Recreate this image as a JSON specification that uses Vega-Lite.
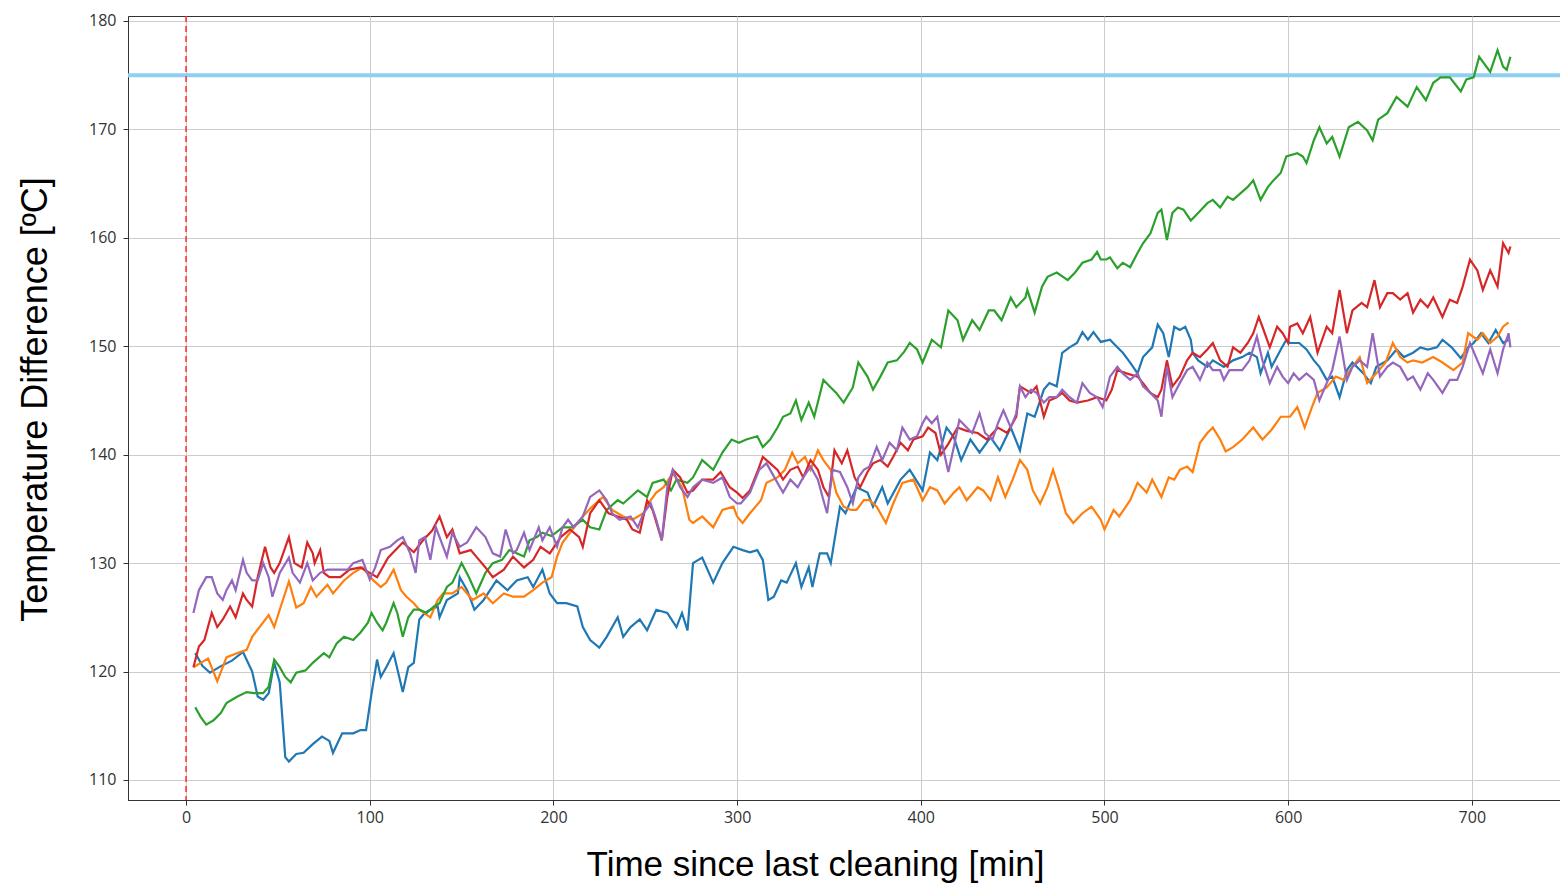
{
  "$schema": "https://vega.github.io/schema/vega-lite/v6.json",
  "width": 1432,
  "height": 784,
  "autosize": {"type": "none"},
  "padding": {"left": 128, "top": 16, "right": 0, "bottom": 89},
  "background": "white",
  "config": {
    "view": {"stroke": "#333333", "strokeWidth": 1},
    "axis": {
      "labelFont": "Open Sans",
      "labelFontSize": 16,
      "labelColor": "#333333",
      "tickColor": "#333333",
      "tickSize": 5,
      "domainColor": "#333333",
      "gridColor": "#cccccc",
      "gridWidth": 1,
      "titleFont": "Liberation Sans",
      "titleFontWeight": "normal",
      "titleColor": "#000000"
    }
  },
  "data": {"values": [
    {"s":"blue","t":5,"v":121.7},{"s":"blue","t":9,"v":120.5},{"s":"blue","t":13,"v":119.9},{"s":"blue","t":19,"v":120.5},{"s":"blue","t":25,"v":121.0},{"s":"blue","t":31,"v":121.8},{"s":"blue","t":36,"v":120.0},{"s":"blue","t":39,"v":117.7},{"s":"blue","t":42,"v":117.4},{"s":"blue","t":45,"v":118.0},{"s":"blue","t":48,"v":120.8},{"s":"blue","t":51,"v":119.0},{"s":"blue","t":54,"v":112.1},{"s":"blue","t":56,"v":111.7},{"s":"blue","t":60,"v":112.4},{"s":"blue","t":64,"v":112.5},{"s":"blue","t":69,"v":113.3},{"s":"blue","t":74,"v":114.0},{"s":"blue","t":78,"v":113.6},{"s":"blue","t":80,"v":112.5},{"s":"blue","t":85,"v":114.3},{"s":"blue","t":91,"v":114.3},{"s":"blue","t":95,"v":114.6},{"s":"blue","t":98,"v":114.6},{"s":"blue","t":101,"v":118.0},{"s":"blue","t":104,"v":121.1},{"s":"blue","t":106,"v":119.5},{"s":"blue","t":109,"v":120.4},{"s":"blue","t":113,"v":121.7},{"s":"blue","t":118,"v":118.1},{"s":"blue","t":121,"v":120.4},{"s":"blue","t":124,"v":120.8},{"s":"blue","t":127,"v":124.8},{"s":"blue","t":130,"v":125.4},{"s":"blue","t":133,"v":125.7},{"s":"blue","t":137,"v":126.0},{"s":"blue","t":138,"v":125.0},{"s":"blue","t":142,"v":126.6},{"s":"blue","t":148,"v":127.2},{"s":"blue","t":149,"v":128.7},{"s":"blue","t":153,"v":127.5},{"s":"blue","t":157,"v":125.7},{"s":"blue","t":162,"v":126.6},{"s":"blue","t":169,"v":128.4},{"s":"blue","t":175,"v":127.5},{"s":"blue","t":180,"v":128.4},{"s":"blue","t":186,"v":128.7},{"s":"blue","t":189,"v":127.8},{"s":"blue","t":194,"v":129.4},{"s":"blue","t":198,"v":127.2},{"s":"blue","t":202,"v":126.3},{"s":"blue","t":207,"v":126.3},{"s":"blue","t":213,"v":126.0},{"s":"blue","t":216,"v":124.1},{"s":"blue","t":220,"v":122.9},{"s":"blue","t":225,"v":122.2},{"s":"blue","t":229,"v":123.2},{"s":"blue","t":235,"v":125.0},{"s":"blue","t":238,"v":123.2},{"s":"blue","t":242,"v":124.1},{"s":"blue","t":247,"v":124.8},{"s":"blue","t":251,"v":123.8},{"s":"blue","t":256,"v":125.7},{"s":"blue","t":262,"v":125.4},{"s":"blue","t":267,"v":124.1},{"s":"blue","t":270,"v":125.4},{"s":"blue","t":273,"v":123.8},{"s":"blue","t":276,"v":130.0},{"s":"blue","t":281,"v":130.5},{"s":"blue","t":287,"v":128.2},{"s":"blue","t":292,"v":130.0},{"s":"blue","t":298,"v":131.5},{"s":"blue","t":303,"v":131.2},{"s":"blue","t":307,"v":131.0},{"s":"blue","t":311,"v":131.2},{"s":"blue","t":314,"v":130.3},{"s":"blue","t":317,"v":126.6},{"s":"blue","t":320,"v":126.9},{"s":"blue","t":324,"v":128.4},{"s":"blue","t":327,"v":128.2},{"s":"blue","t":332,"v":130.0},{"s":"blue","t":335,"v":127.8},{"s":"blue","t":339,"v":129.6},{"s":"blue","t":341,"v":127.8},{"s":"blue","t":345,"v":130.9},{"s":"blue","t":349,"v":130.9},{"s":"blue","t":351,"v":130.0},{"s":"blue","t":356,"v":135.2},{"s":"blue","t":359,"v":134.6},{"s":"blue","t":365,"v":137.0},{"s":"blue","t":371,"v":136.5},{"s":"blue","t":374,"v":135.2},{"s":"blue","t":379,"v":137.0},{"s":"blue","t":382,"v":135.5},{"s":"blue","t":389,"v":137.7},{"s":"blue","t":394,"v":138.6},{"s":"blue","t":401,"v":136.7},{"s":"blue","t":405,"v":140.2},{"s":"blue","t":409,"v":139.5},{"s":"blue","t":414,"v":142.5},{"s":"blue","t":418,"v":141.6},{"s":"blue","t":422,"v":139.5},{"s":"blue","t":427,"v":141.4},{"s":"blue","t":432,"v":140.2},{"s":"blue","t":438,"v":141.6},{"s":"blue","t":443,"v":140.4},{"s":"blue","t":449,"v":142.5},{"s":"blue","t":454,"v":140.4},{"s":"blue","t":458,"v":143.8},{"s":"blue","t":462,"v":143.5},{"s":"blue","t":467,"v":146.0},{"s":"blue","t":470,"v":146.6},{"s":"blue","t":474,"v":146.3},{"s":"blue","t":477,"v":149.4},{"s":"blue","t":481,"v":149.9},{"s":"blue","t":485,"v":150.3},{"s":"blue","t":488,"v":151.3},{"s":"blue","t":491,"v":150.6},{"s":"blue","t":494,"v":151.3},{"s":"blue","t":498,"v":150.4},{"s":"blue","t":503,"v":150.6},{"s":"blue","t":507,"v":149.9},{"s":"blue","t":510,"v":149.4},{"s":"blue","t":514,"v":148.5},{"s":"blue","t":518,"v":147.5},{"s":"blue","t":521,"v":149.0},{"s":"blue","t":526,"v":149.9},{"s":"blue","t":529,"v":152.0},{"s":"blue","t":532,"v":151.2},{"s":"blue","t":535,"v":149.0},{"s":"blue","t":538,"v":151.8},{"s":"blue","t":541,"v":151.5},{"s":"blue","t":544,"v":151.8},{"s":"blue","t":547,"v":150.6},{"s":"blue","t":548,"v":149.4},{"s":"blue","t":551,"v":148.7},{"s":"blue","t":556,"v":148.1},{"s":"blue","t":559,"v":148.7},{"s":"blue","t":565,"v":148.1},{"s":"blue","t":570,"v":148.7},{"s":"blue","t":575,"v":149.0},{"s":"blue","t":579,"v":149.4},{"s":"blue","t":583,"v":149.0},{"s":"blue","t":585,"v":147.5},{"s":"blue","t":589,"v":149.4},{"s":"blue","t":591,"v":148.1},{"s":"blue","t":596,"v":149.7},{"s":"blue","t":599,"v":150.6},{"s":"blue","t":601,"v":150.3},{"s":"blue","t":606,"v":150.3},{"s":"blue","t":610,"v":149.7},{"s":"blue","t":614,"v":148.7},{"s":"blue","t":617,"v":148.1},{"s":"blue","t":621,"v":146.9},{"s":"blue","t":624,"v":147.2},{"s":"blue","t":628,"v":145.3},{"s":"blue","t":632,"v":147.8},{"s":"blue","t":635,"v":148.5},{"s":"blue","t":641,"v":147.5},{"s":"blue","t":645,"v":146.6},{"s":"blue","t":648,"v":148.1},{"s":"blue","t":654,"v":148.7},{"s":"blue","t":659,"v":149.7},{"s":"blue","t":663,"v":149.0},{"s":"blue","t":668,"v":149.4},{"s":"blue","t":672,"v":149.9},{"s":"blue","t":676,"v":149.7},{"s":"blue","t":681,"v":149.9},{"s":"blue","t":684,"v":150.6},{"s":"blue","t":689,"v":149.9},{"s":"blue","t":694,"v":148.9},{"s":"blue","t":698,"v":149.9},{"s":"blue","t":701,"v":150.3},{"s":"blue","t":705,"v":151.2},{"s":"blue","t":709,"v":150.3},{"s":"blue","t":713,"v":151.5},{"s":"blue","t":717,"v":150.3},{"s":"blue","t":720,"v":150.6},
    {"s":"orange","t":4,"v":120.4},{"s":"orange","t":8,"v":120.8},{"s":"orange","t":12,"v":121.2},{"s":"orange","t":17,"v":119.1},{"s":"orange","t":22,"v":121.3},{"s":"orange","t":28,"v":121.7},{"s":"orange","t":33,"v":122.0},{"s":"orange","t":36,"v":123.2},{"s":"orange","t":40,"v":124.1},{"s":"orange","t":45,"v":125.2},{"s":"orange","t":48,"v":124.1},{"s":"orange","t":51,"v":125.7},{"s":"orange","t":56,"v":128.3},{"s":"orange","t":60,"v":125.9},{"s":"orange","t":64,"v":126.3},{"s":"orange","t":68,"v":127.8},{"s":"orange","t":71,"v":126.9},{"s":"orange","t":77,"v":128.0},{"s":"orange","t":80,"v":127.2},{"s":"orange","t":86,"v":128.4},{"s":"orange","t":91,"v":129.1},{"s":"orange","t":96,"v":129.6},{"s":"orange","t":102,"v":128.4},{"s":"orange","t":106,"v":127.8},{"s":"orange","t":109,"v":128.2},{"s":"orange","t":113,"v":129.4},{"s":"orange","t":117,"v":127.5},{"s":"orange","t":120,"v":126.9},{"s":"orange","t":124,"v":126.3},{"s":"orange","t":127,"v":125.7},{"s":"orange","t":133,"v":125.0},{"s":"orange","t":137,"v":126.6},{"s":"orange","t":140,"v":127.2},{"s":"orange","t":145,"v":127.2},{"s":"orange","t":150,"v":127.8},{"s":"orange","t":156,"v":126.6},{"s":"orange","t":162,"v":127.2},{"s":"orange","t":167,"v":126.3},{"s":"orange","t":173,"v":127.2},{"s":"orange","t":178,"v":126.9},{"s":"orange","t":184,"v":126.9},{"s":"orange","t":189,"v":127.5},{"s":"orange","t":194,"v":128.2},{"s":"orange","t":199,"v":128.7},{"s":"orange","t":202,"v":130.6},{"s":"orange","t":205,"v":131.9},{"s":"orange","t":209,"v":132.8},{"s":"orange","t":216,"v":134.3},{"s":"orange","t":221,"v":135.2},{"s":"orange","t":227,"v":136.1},{"s":"orange","t":232,"v":134.9},{"s":"orange","t":238,"v":134.3},{"s":"orange","t":243,"v":134.0},{"s":"orange","t":249,"v":134.6},{"s":"orange","t":253,"v":135.8},{"s":"orange","t":256,"v":136.5},{"s":"orange","t":260,"v":137.0},{"s":"orange","t":265,"v":138.3},{"s":"orange","t":270,"v":137.0},{"s":"orange","t":274,"v":134.0},{"s":"orange","t":276,"v":133.7},{"s":"orange","t":281,"v":134.3},{"s":"orange","t":287,"v":133.3},{"s":"orange","t":292,"v":134.9},{"s":"orange","t":298,"v":135.2},{"s":"orange","t":300,"v":134.3},{"s":"orange","t":303,"v":133.7},{"s":"orange","t":307,"v":134.6},{"s":"orange","t":313,"v":135.8},{"s":"orange","t":316,"v":137.4},{"s":"orange","t":322,"v":137.9},{"s":"orange","t":326,"v":138.6},{"s":"orange","t":330,"v":140.2},{"s":"orange","t":333,"v":139.2},{"s":"orange","t":337,"v":139.8},{"s":"orange","t":340,"v":138.6},{"s":"orange","t":344,"v":140.4},{"s":"orange","t":347,"v":139.5},{"s":"orange","t":351,"v":138.6},{"s":"orange","t":354,"v":136.5},{"s":"orange","t":358,"v":135.2},{"s":"orange","t":362,"v":134.9},{"s":"orange","t":365,"v":134.9},{"s":"orange","t":369,"v":135.8},{"s":"orange","t":372,"v":135.8},{"s":"orange","t":376,"v":135.2},{"s":"orange","t":381,"v":133.7},{"s":"orange","t":385,"v":135.5},{"s":"orange","t":390,"v":137.4},{"s":"orange","t":396,"v":137.7},{"s":"orange","t":401,"v":135.8},{"s":"orange","t":405,"v":137.0},{"s":"orange","t":409,"v":136.7},{"s":"orange","t":413,"v":135.5},{"s":"orange","t":418,"v":136.5},{"s":"orange","t":421,"v":137.0},{"s":"orange","t":425,"v":135.8},{"s":"orange","t":431,"v":137.0},{"s":"orange","t":434,"v":136.7},{"s":"orange","t":438,"v":135.8},{"s":"orange","t":442,"v":137.9},{"s":"orange","t":446,"v":136.1},{"s":"orange","t":450,"v":137.7},{"s":"orange","t":454,"v":139.5},{"s":"orange","t":458,"v":138.6},{"s":"orange","t":461,"v":136.7},{"s":"orange","t":465,"v":135.5},{"s":"orange","t":469,"v":137.0},{"s":"orange","t":472,"v":138.6},{"s":"orange","t":475,"v":137.0},{"s":"orange","t":479,"v":134.6},{"s":"orange","t":483,"v":133.7},{"s":"orange","t":488,"v":134.6},{"s":"orange","t":493,"v":135.2},{"s":"orange","t":498,"v":134.0},{"s":"orange","t":500,"v":133.1},{"s":"orange","t":505,"v":134.9},{"s":"orange","t":508,"v":134.3},{"s":"orange","t":514,"v":135.8},{"s":"orange","t":518,"v":137.4},{"s":"orange","t":523,"v":136.5},{"s":"orange","t":526,"v":137.7},{"s":"orange","t":531,"v":136.1},{"s":"orange","t":535,"v":137.9},{"s":"orange","t":538,"v":137.7},{"s":"orange","t":541,"v":138.6},{"s":"orange","t":545,"v":138.9},{"s":"orange","t":548,"v":138.4},{"s":"orange","t":552,"v":141.1},{"s":"orange","t":556,"v":142.0},{"s":"orange","t":559,"v":142.5},{"s":"orange","t":563,"v":141.4},{"s":"orange","t":566,"v":140.3},{"s":"orange","t":570,"v":140.7},{"s":"orange","t":575,"v":141.4},{"s":"orange","t":581,"v":142.5},{"s":"orange","t":586,"v":141.4},{"s":"orange","t":591,"v":142.3},{"s":"orange","t":596,"v":143.5},{"s":"orange","t":601,"v":143.5},{"s":"orange","t":605,"v":144.4},{"s":"orange","t":609,"v":142.5},{"s":"orange","t":613,"v":144.4},{"s":"orange","t":616,"v":145.7},{"s":"orange","t":621,"v":146.2},{"s":"orange","t":626,"v":147.2},{"s":"orange","t":630,"v":146.9},{"s":"orange","t":635,"v":148.1},{"s":"orange","t":639,"v":149.0},{"s":"orange","t":643,"v":146.6},{"s":"orange","t":648,"v":147.5},{"s":"orange","t":653,"v":148.5},{"s":"orange","t":657,"v":150.3},{"s":"orange","t":661,"v":149.0},{"s":"orange","t":665,"v":148.5},{"s":"orange","t":668,"v":148.7},{"s":"orange","t":673,"v":148.5},{"s":"orange","t":679,"v":149.0},{"s":"orange","t":684,"v":148.5},{"s":"orange","t":690,"v":147.8},{"s":"orange","t":695,"v":148.5},{"s":"orange","t":698,"v":151.2},{"s":"orange","t":703,"v":150.6},{"s":"orange","t":706,"v":151.2},{"s":"orange","t":710,"v":150.3},{"s":"orange","t":714,"v":150.9},{"s":"orange","t":717,"v":151.8},{"s":"orange","t":720,"v":152.2},
    {"s":"green","t":5,"v":116.7},{"s":"green","t":8,"v":115.8},{"s":"green","t":11,"v":115.1},{"s":"green","t":15,"v":115.5},{"s":"green","t":19,"v":116.2},{"s":"green","t":22,"v":117.1},{"s":"green","t":28,"v":117.7},{"s":"green","t":33,"v":118.1},{"s":"green","t":37,"v":118.0},{"s":"green","t":42,"v":118.0},{"s":"green","t":45,"v":118.6},{"s":"green","t":48,"v":121.1},{"s":"green","t":51,"v":120.4},{"s":"green","t":54,"v":119.5},{"s":"green","t":57,"v":119.0},{"s":"green","t":60,"v":119.9},{"s":"green","t":65,"v":120.1},{"s":"green","t":69,"v":120.8},{"s":"green","t":75,"v":121.7},{"s":"green","t":78,"v":121.3},{"s":"green","t":82,"v":122.6},{"s":"green","t":86,"v":123.2},{"s":"green","t":91,"v":122.9},{"s":"green","t":95,"v":123.6},{"s":"green","t":99,"v":124.5},{"s":"green","t":101,"v":125.4},{"s":"green","t":104,"v":124.5},{"s":"green","t":107,"v":123.8},{"s":"green","t":109,"v":124.5},{"s":"green","t":113,"v":126.3},{"s":"green","t":115,"v":125.4},{"s":"green","t":118,"v":123.2},{"s":"green","t":121,"v":125.0},{"s":"green","t":124,"v":125.7},{"s":"green","t":127,"v":125.7},{"s":"green","t":131,"v":125.4},{"s":"green","t":135,"v":126.0},{"s":"green","t":138,"v":126.3},{"s":"green","t":142,"v":127.8},{"s":"green","t":145,"v":128.2},{"s":"green","t":150,"v":130.0},{"s":"green","t":154,"v":128.7},{"s":"green","t":158,"v":127.2},{"s":"green","t":163,"v":129.1},{"s":"green","t":167,"v":130.0},{"s":"green","t":172,"v":130.3},{"s":"green","t":176,"v":131.2},{"s":"green","t":180,"v":130.9},{"s":"green","t":184,"v":130.6},{"s":"green","t":187,"v":132.1},{"s":"green","t":191,"v":132.4},{"s":"green","t":194,"v":132.8},{"s":"green","t":199,"v":132.5},{"s":"green","t":205,"v":133.3},{"s":"green","t":210,"v":133.3},{"s":"green","t":216,"v":134.0},{"s":"green","t":220,"v":133.3},{"s":"green","t":225,"v":133.1},{"s":"green","t":229,"v":134.9},{"s":"green","t":235,"v":135.8},{"s":"green","t":238,"v":135.5},{"s":"green","t":242,"v":136.1},{"s":"green","t":246,"v":136.7},{"s":"green","t":251,"v":136.1},{"s":"green","t":254,"v":137.4},{"s":"green","t":260,"v":137.7},{"s":"green","t":264,"v":136.7},{"s":"green","t":267,"v":137.7},{"s":"green","t":273,"v":137.4},{"s":"green","t":276,"v":137.9},{"s":"green","t":281,"v":139.5},{"s":"green","t":287,"v":138.6},{"s":"green","t":292,"v":140.2},{"s":"green","t":297,"v":141.4},{"s":"green","t":301,"v":141.1},{"s":"green","t":305,"v":141.4},{"s":"green","t":311,"v":141.7},{"s":"green","t":314,"v":140.7},{"s":"green","t":318,"v":141.4},{"s":"green","t":322,"v":142.5},{"s":"green","t":325,"v":143.5},{"s":"green","t":329,"v":143.8},{"s":"green","t":332,"v":145.0},{"s":"green","t":335,"v":143.2},{"s":"green","t":339,"v":144.8},{"s":"green","t":342,"v":143.5},{"s":"green","t":347,"v":146.9},{"s":"green","t":351,"v":146.2},{"s":"green","t":354,"v":145.7},{"s":"green","t":358,"v":144.8},{"s":"green","t":363,"v":146.2},{"s":"green","t":366,"v":148.5},{"s":"green","t":371,"v":147.2},{"s":"green","t":374,"v":146.0},{"s":"green","t":378,"v":147.2},{"s":"green","t":382,"v":148.5},{"s":"green","t":387,"v":148.7},{"s":"green","t":391,"v":149.5},{"s":"green","t":394,"v":150.3},{"s":"green","t":398,"v":149.7},{"s":"green","t":401,"v":148.5},{"s":"green","t":406,"v":150.6},{"s":"green","t":411,"v":149.9},{"s":"green","t":415,"v":153.3},{"s":"green","t":420,"v":152.4},{"s":"green","t":423,"v":150.6},{"s":"green","t":428,"v":152.4},{"s":"green","t":432,"v":151.5},{"s":"green","t":437,"v":153.3},{"s":"green","t":440,"v":153.3},{"s":"green","t":444,"v":152.4},{"s":"green","t":449,"v":154.5},{"s":"green","t":452,"v":153.6},{"s":"green","t":457,"v":154.5},{"s":"green","t":458,"v":155.2},{"s":"green","t":462,"v":153.1},{"s":"green","t":466,"v":155.5},{"s":"green","t":469,"v":156.4},{"s":"green","t":474,"v":156.8},{"s":"green","t":480,"v":156.1},{"s":"green","t":484,"v":156.8},{"s":"green","t":488,"v":157.7},{"s":"green","t":493,"v":158.0},{"s":"green","t":496,"v":158.7},{"s":"green","t":498,"v":158.0},{"s":"green","t":501,"v":158.0},{"s":"green","t":503,"v":158.2},{"s":"green","t":507,"v":157.2},{"s":"green","t":510,"v":157.7},{"s":"green","t":514,"v":157.3},{"s":"green","t":518,"v":158.6},{"s":"green","t":521,"v":159.5},{"s":"green","t":525,"v":160.4},{"s":"green","t":529,"v":162.3},{"s":"green","t":531,"v":162.6},{"s":"green","t":534,"v":159.8},{"s":"green","t":537,"v":162.3},{"s":"green","t":540,"v":162.8},{"s":"green","t":543,"v":162.6},{"s":"green","t":547,"v":161.6},{"s":"green","t":551,"v":162.3},{"s":"green","t":556,"v":163.2},{"s":"green","t":559,"v":163.5},{"s":"green","t":563,"v":162.8},{"s":"green","t":567,"v":163.8},{"s":"green","t":570,"v":163.5},{"s":"green","t":574,"v":164.1},{"s":"green","t":578,"v":164.7},{"s":"green","t":581,"v":165.3},{"s":"green","t":585,"v":163.5},{"s":"green","t":589,"v":164.7},{"s":"green","t":592,"v":165.3},{"s":"green","t":596,"v":166.0},{"s":"green","t":599,"v":167.5},{"s":"green","t":605,"v":167.8},{"s":"green","t":608,"v":167.5},{"s":"green","t":610,"v":166.9},{"s":"green","t":614,"v":169.0},{"s":"green","t":617,"v":170.2},{"s":"green","t":621,"v":168.7},{"s":"green","t":624,"v":169.3},{"s":"green","t":628,"v":167.5},{"s":"green","t":633,"v":170.2},{"s":"green","t":638,"v":170.7},{"s":"green","t":643,"v":169.9},{"s":"green","t":646,"v":169.0},{"s":"green","t":649,"v":170.9},{"s":"green","t":654,"v":171.5},{"s":"green","t":659,"v":173.0},{"s":"green","t":665,"v":172.1},{"s":"green","t":670,"v":173.9},{"s":"green","t":675,"v":172.7},{"s":"green","t":679,"v":174.3},{"s":"green","t":683,"v":174.8},{"s":"green","t":688,"v":174.8},{"s":"green","t":694,"v":173.5},{"s":"green","t":697,"v":174.6},{"s":"green","t":701,"v":174.8},{"s":"green","t":704,"v":176.7},{"s":"green","t":710,"v":175.3},{"s":"green","t":714,"v":177.3},{"s":"green","t":717,"v":175.8},{"s":"green","t":719,"v":175.5},{"s":"green","t":721,"v":176.7},
    {"s":"red","t":4,"v":120.4},{"s":"red","t":7,"v":122.3},{"s":"red","t":10,"v":122.9},{"s":"red","t":14,"v":125.4},{"s":"red","t":17,"v":124.1},{"s":"red","t":20,"v":124.8},{"s":"red","t":24,"v":126.0},{"s":"red","t":27,"v":125.0},{"s":"red","t":31,"v":127.2},{"s":"red","t":33,"v":126.6},{"s":"red","t":36,"v":126.0},{"s":"red","t":39,"v":128.7},{"s":"red","t":43,"v":131.5},{"s":"red","t":46,"v":129.6},{"s":"red","t":48,"v":129.1},{"s":"red","t":51,"v":130.0},{"s":"red","t":56,"v":132.4},{"s":"red","t":59,"v":130.0},{"s":"red","t":63,"v":129.6},{"s":"red","t":66,"v":131.9},{"s":"red","t":69,"v":130.9},{"s":"red","t":70,"v":130.0},{"s":"red","t":73,"v":131.2},{"s":"red","t":75,"v":129.1},{"s":"red","t":78,"v":128.7},{"s":"red","t":84,"v":128.7},{"s":"red","t":89,"v":129.4},{"s":"red","t":95,"v":129.6},{"s":"red","t":100,"v":129.1},{"s":"red","t":104,"v":128.7},{"s":"red","t":110,"v":130.5},{"s":"red","t":118,"v":131.9},{"s":"red","t":124,"v":131.0},{"s":"red","t":129,"v":132.1},{"s":"red","t":134,"v":133.0},{"s":"red","t":138,"v":134.3},{"s":"red","t":142,"v":132.4},{"s":"red","t":145,"v":133.1},{"s":"red","t":149,"v":130.9},{"s":"red","t":155,"v":131.2},{"s":"red","t":158,"v":130.6},{"s":"red","t":163,"v":129.6},{"s":"red","t":167,"v":128.7},{"s":"red","t":173,"v":129.4},{"s":"red","t":178,"v":130.6},{"s":"red","t":184,"v":129.6},{"s":"red","t":189,"v":130.3},{"s":"red","t":193,"v":131.5},{"s":"red","t":198,"v":130.9},{"s":"red","t":204,"v":132.4},{"s":"red","t":209,"v":133.1},{"s":"red","t":214,"v":132.4},{"s":"red","t":216,"v":131.5},{"s":"red","t":220,"v":134.6},{"s":"red","t":225,"v":135.8},{"s":"red","t":230,"v":134.6},{"s":"red","t":235,"v":134.3},{"s":"red","t":240,"v":134.0},{"s":"red","t":243,"v":133.1},{"s":"red","t":247,"v":132.8},{"s":"red","t":251,"v":135.8},{"s":"red","t":254,"v":134.9},{"s":"red","t":259,"v":132.1},{"s":"red","t":262,"v":136.1},{"s":"red","t":265,"v":138.6},{"s":"red","t":269,"v":137.9},{"s":"red","t":273,"v":136.5},{"s":"red","t":276,"v":136.7},{"s":"red","t":281,"v":137.7},{"s":"red","t":287,"v":137.7},{"s":"red","t":291,"v":138.4},{"s":"red","t":296,"v":137.0},{"s":"red","t":300,"v":136.5},{"s":"red","t":303,"v":136.0},{"s":"red","t":307,"v":136.7},{"s":"red","t":311,"v":138.4},{"s":"red","t":314,"v":139.8},{"s":"red","t":318,"v":139.2},{"s":"red","t":322,"v":138.6},{"s":"red","t":325,"v":137.7},{"s":"red","t":329,"v":138.6},{"s":"red","t":333,"v":138.9},{"s":"red","t":336,"v":137.9},{"s":"red","t":340,"v":139.5},{"s":"red","t":344,"v":138.6},{"s":"red","t":347,"v":137.0},{"s":"red","t":350,"v":136.1},{"s":"red","t":353,"v":140.4},{"s":"red","t":357,"v":139.2},{"s":"red","t":360,"v":140.4},{"s":"red","t":364,"v":137.9},{"s":"red","t":367,"v":137.0},{"s":"red","t":371,"v":138.4},{"s":"red","t":374,"v":139.2},{"s":"red","t":378,"v":139.5},{"s":"red","t":382,"v":138.9},{"s":"red","t":385,"v":139.8},{"s":"red","t":389,"v":141.1},{"s":"red","t":393,"v":140.4},{"s":"red","t":396,"v":141.4},{"s":"red","t":401,"v":141.7},{"s":"red","t":404,"v":142.5},{"s":"red","t":408,"v":142.0},{"s":"red","t":411,"v":140.0},{"s":"red","t":415,"v":141.0},{"s":"red","t":420,"v":142.5},{"s":"red","t":425,"v":142.2},{"s":"red","t":431,"v":142.0},{"s":"red","t":436,"v":141.4},{"s":"red","t":442,"v":142.5},{"s":"red","t":447,"v":142.0},{"s":"red","t":452,"v":143.5},{"s":"red","t":454,"v":146.3},{"s":"red","t":460,"v":145.7},{"s":"red","t":463,"v":146.3},{"s":"red","t":467,"v":143.5},{"s":"red","t":470,"v":145.0},{"s":"red","t":474,"v":145.3},{"s":"red","t":477,"v":145.7},{"s":"red","t":481,"v":145.0},{"s":"red","t":485,"v":144.8},{"s":"red","t":491,"v":145.0},{"s":"red","t":496,"v":145.3},{"s":"red","t":501,"v":145.0},{"s":"red","t":504,"v":146.0},{"s":"red","t":507,"v":147.8},{"s":"red","t":512,"v":147.5},{"s":"red","t":518,"v":147.2},{"s":"red","t":521,"v":146.6},{"s":"red","t":525,"v":145.7},{"s":"red","t":529,"v":145.3},{"s":"red","t":531,"v":146.0},{"s":"red","t":534,"v":148.7},{"s":"red","t":537,"v":146.3},{"s":"red","t":541,"v":147.2},{"s":"red","t":545,"v":148.7},{"s":"red","t":548,"v":149.4},{"s":"red","t":552,"v":149.0},{"s":"red","t":556,"v":149.7},{"s":"red","t":559,"v":150.3},{"s":"red","t":563,"v":148.7},{"s":"red","t":567,"v":148.1},{"s":"red","t":570,"v":149.9},{"s":"red","t":574,"v":149.4},{"s":"red","t":578,"v":150.3},{"s":"red","t":581,"v":151.2},{"s":"red","t":584,"v":152.7},{"s":"red","t":586,"v":151.8},{"s":"red","t":590,"v":149.9},{"s":"red","t":594,"v":151.8},{"s":"red","t":597,"v":151.2},{"s":"red","t":600,"v":150.3},{"s":"red","t":601,"v":151.8},{"s":"red","t":605,"v":152.1},{"s":"red","t":608,"v":151.2},{"s":"red","t":612,"v":152.7},{"s":"red","t":616,"v":149.4},{"s":"red","t":621,"v":151.8},{"s":"red","t":624,"v":151.2},{"s":"red","t":628,"v":155.2},{"s":"red","t":632,"v":151.2},{"s":"red","t":635,"v":153.3},{"s":"red","t":640,"v":154.0},{"s":"red","t":643,"v":153.6},{"s":"red","t":647,"v":156.1},{"s":"red","t":650,"v":153.6},{"s":"red","t":654,"v":154.9},{"s":"red","t":657,"v":154.9},{"s":"red","t":661,"v":154.3},{"s":"red","t":665,"v":154.9},{"s":"red","t":668,"v":153.1},{"s":"red","t":672,"v":154.3},{"s":"red","t":676,"v":153.6},{"s":"red","t":679,"v":154.5},{"s":"red","t":684,"v":152.7},{"s":"red","t":688,"v":154.3},{"s":"red","t":692,"v":154.0},{"s":"red","t":695,"v":155.5},{"s":"red","t":699,"v":158.0},{"s":"red","t":703,"v":157.0},{"s":"red","t":706,"v":155.2},{"s":"red","t":710,"v":157.0},{"s":"red","t":714,"v":155.5},{"s":"red","t":717,"v":159.5},{"s":"red","t":720,"v":158.6},{"s":"red","t":721,"v":159.2},
    {"s":"purple","t":4,"v":125.4},{"s":"purple","t":7,"v":127.5},{"s":"purple","t":11,"v":128.7},{"s":"purple","t":14,"v":128.7},{"s":"purple","t":17,"v":127.2},{"s":"purple","t":20,"v":126.6},{"s":"purple","t":22,"v":127.5},{"s":"purple","t":25,"v":128.4},{"s":"purple","t":27,"v":127.5},{"s":"purple","t":31,"v":130.3},{"s":"purple","t":33,"v":129.1},{"s":"purple","t":36,"v":128.4},{"s":"purple","t":39,"v":128.4},{"s":"purple","t":42,"v":130.0},{"s":"purple","t":45,"v":128.7},{"s":"purple","t":47,"v":126.9},{"s":"purple","t":51,"v":129.1},{"s":"purple","t":56,"v":130.5},{"s":"purple","t":58,"v":129.1},{"s":"purple","t":62,"v":128.2},{"s":"purple","t":66,"v":130.0},{"s":"purple","t":69,"v":128.4},{"s":"purple","t":73,"v":129.1},{"s":"purple","t":77,"v":129.4},{"s":"purple","t":82,"v":129.4},{"s":"purple","t":88,"v":129.4},{"s":"purple","t":91,"v":130.0},{"s":"purple","t":96,"v":130.3},{"s":"purple","t":100,"v":128.5},{"s":"purple","t":103,"v":129.6},{"s":"purple","t":106,"v":131.2},{"s":"purple","t":111,"v":131.5},{"s":"purple","t":115,"v":132.1},{"s":"purple","t":118,"v":132.4},{"s":"purple","t":122,"v":130.9},{"s":"purple","t":125,"v":129.1},{"s":"purple","t":127,"v":132.1},{"s":"purple","t":130,"v":132.4},{"s":"purple","t":133,"v":130.3},{"s":"purple","t":136,"v":133.3},{"s":"purple","t":142,"v":130.6},{"s":"purple","t":145,"v":132.8},{"s":"purple","t":149,"v":131.5},{"s":"purple","t":153,"v":131.9},{"s":"purple","t":158,"v":133.3},{"s":"purple","t":163,"v":132.4},{"s":"purple","t":167,"v":130.9},{"s":"purple","t":171,"v":130.6},{"s":"purple","t":174,"v":133.1},{"s":"purple","t":178,"v":130.9},{"s":"purple","t":180,"v":131.2},{"s":"purple","t":184,"v":132.8},{"s":"purple","t":187,"v":131.2},{"s":"purple","t":192,"v":133.3},{"s":"purple","t":194,"v":132.1},{"s":"purple","t":198,"v":133.3},{"s":"purple","t":202,"v":131.5},{"s":"purple","t":205,"v":133.3},{"s":"purple","t":208,"v":134.0},{"s":"purple","t":211,"v":133.3},{"s":"purple","t":216,"v":134.3},{"s":"purple","t":220,"v":136.1},{"s":"purple","t":225,"v":136.7},{"s":"purple","t":229,"v":135.8},{"s":"purple","t":232,"v":134.6},{"s":"purple","t":236,"v":134.0},{"s":"purple","t":242,"v":134.3},{"s":"purple","t":246,"v":133.3},{"s":"purple","t":249,"v":134.6},{"s":"purple","t":253,"v":135.5},{"s":"purple","t":256,"v":134.0},{"s":"purple","t":259,"v":132.1},{"s":"purple","t":262,"v":137.0},{"s":"purple","t":265,"v":138.6},{"s":"purple","t":269,"v":137.0},{"s":"purple","t":273,"v":136.1},{"s":"purple","t":276,"v":137.0},{"s":"purple","t":281,"v":137.7},{"s":"purple","t":287,"v":137.4},{"s":"purple","t":292,"v":137.9},{"s":"purple","t":296,"v":136.1},{"s":"purple","t":300,"v":135.5},{"s":"purple","t":302,"v":135.5},{"s":"purple","t":305,"v":136.1},{"s":"purple","t":307,"v":136.5},{"s":"purple","t":312,"v":138.6},{"s":"purple","t":316,"v":139.2},{"s":"purple","t":322,"v":137.4},{"s":"purple","t":325,"v":136.5},{"s":"purple","t":329,"v":137.7},{"s":"purple","t":333,"v":137.0},{"s":"purple","t":336,"v":137.9},{"s":"purple","t":340,"v":138.9},{"s":"purple","t":344,"v":137.7},{"s":"purple","t":347,"v":135.8},{"s":"purple","t":349,"v":134.6},{"s":"purple","t":352,"v":138.6},{"s":"purple","t":356,"v":138.4},{"s":"purple","t":360,"v":137.0},{"s":"purple","t":363,"v":135.5},{"s":"purple","t":366,"v":137.9},{"s":"purple","t":369,"v":138.6},{"s":"purple","t":372,"v":138.9},{"s":"purple","t":376,"v":140.7},{"s":"purple","t":379,"v":139.5},{"s":"purple","t":383,"v":141.1},{"s":"purple","t":387,"v":140.4},{"s":"purple","t":390,"v":142.5},{"s":"purple","t":394,"v":141.4},{"s":"purple","t":398,"v":141.7},{"s":"purple","t":401,"v":142.9},{"s":"purple","t":403,"v":143.5},{"s":"purple","t":406,"v":142.9},{"s":"purple","t":409,"v":143.5},{"s":"purple","t":412,"v":140.7},{"s":"purple","t":415,"v":138.4},{"s":"purple","t":418,"v":140.7},{"s":"purple","t":421,"v":143.2},{"s":"purple","t":425,"v":142.5},{"s":"purple","t":428,"v":142.0},{"s":"purple","t":432,"v":143.8},{"s":"purple","t":435,"v":142.0},{"s":"purple","t":439,"v":141.4},{"s":"purple","t":442,"v":142.9},{"s":"purple","t":445,"v":144.1},{"s":"purple","t":449,"v":142.5},{"s":"purple","t":452,"v":143.8},{"s":"purple","t":454,"v":146.3},{"s":"purple","t":457,"v":145.3},{"s":"purple","t":460,"v":146.0},{"s":"purple","t":463,"v":145.7},{"s":"purple","t":467,"v":144.8},{"s":"purple","t":470,"v":145.3},{"s":"purple","t":474,"v":145.3},{"s":"purple","t":477,"v":146.0},{"s":"purple","t":481,"v":145.3},{"s":"purple","t":485,"v":144.8},{"s":"purple","t":488,"v":146.6},{"s":"purple","t":492,"v":145.7},{"s":"purple","t":496,"v":145.3},{"s":"purple","t":499,"v":144.4},{"s":"purple","t":503,"v":147.2},{"s":"purple","t":507,"v":148.1},{"s":"purple","t":510,"v":147.5},{"s":"purple","t":514,"v":146.9},{"s":"purple","t":518,"v":147.5},{"s":"purple","t":521,"v":146.3},{"s":"purple","t":525,"v":145.7},{"s":"purple","t":529,"v":145.0},{"s":"purple","t":531,"v":143.5},{"s":"purple","t":534,"v":148.1},{"s":"purple","t":537,"v":145.3},{"s":"purple","t":541,"v":146.6},{"s":"purple","t":545,"v":147.8},{"s":"purple","t":548,"v":148.1},{"s":"purple","t":552,"v":146.9},{"s":"purple","t":556,"v":148.5},{"s":"purple","t":559,"v":147.8},{"s":"purple","t":563,"v":147.8},{"s":"purple","t":565,"v":146.9},{"s":"purple","t":568,"v":147.8},{"s":"purple","t":572,"v":147.8},{"s":"purple","t":575,"v":147.8},{"s":"purple","t":579,"v":148.7},{"s":"purple","t":583,"v":150.9},{"s":"purple","t":586,"v":148.7},{"s":"purple","t":590,"v":146.6},{"s":"purple","t":594,"v":148.1},{"s":"purple","t":597,"v":147.2},{"s":"purple","t":600,"v":146.6},{"s":"purple","t":603,"v":147.5},{"s":"purple","t":606,"v":146.9},{"s":"purple","t":610,"v":147.5},{"s":"purple","t":614,"v":146.9},{"s":"purple","t":617,"v":145.0},{"s":"purple","t":621,"v":146.6},{"s":"purple","t":624,"v":147.8},{"s":"purple","t":628,"v":150.9},{"s":"purple","t":632,"v":146.9},{"s":"purple","t":635,"v":148.1},{"s":"purple","t":639,"v":148.7},{"s":"purple","t":643,"v":148.1},{"s":"purple","t":646,"v":151.2},{"s":"purple","t":650,"v":147.2},{"s":"purple","t":654,"v":148.1},{"s":"purple","t":657,"v":148.5},{"s":"purple","t":661,"v":148.1},{"s":"purple","t":665,"v":146.9},{"s":"purple","t":668,"v":147.2},{"s":"purple","t":672,"v":146.0},{"s":"purple","t":676,"v":147.5},{"s":"purple","t":679,"v":146.9},{"s":"purple","t":684,"v":145.7},{"s":"purple","t":688,"v":146.9},{"s":"purple","t":692,"v":146.9},{"s":"purple","t":695,"v":148.1},{"s":"purple","t":699,"v":150.3},{"s":"purple","t":703,"v":148.7},{"s":"purple","t":706,"v":147.5},{"s":"purple","t":710,"v":149.7},{"s":"purple","t":714,"v":147.5},{"s":"purple","t":717,"v":149.7},{"s":"purple","t":720,"v":151.2},{"s":"purple","t":721,"v":149.9}
  ]},
  "encoding": {
    "x": {
      "field": "t", "type": "quantitative",
      "scale": {"domain": [-31.6, 748], "nice": false, "zero": false},
      "axis": {"values": [0,100,200,300,400,500,600,700], "title": "Time since last cleaning [min]", "titleFontSize": 35, "titlePadding": 22, "titleX": 687, "labelPadding": 4}
    },
    "y": {
      "field": "v", "type": "quantitative",
      "scale": {"domain": [108.15, 180.46], "nice": false, "zero": false},
      "axis": {"values": [110,120,130,140,150,160,170,180], "title": "Temperature Difference [ºC]", "titleFontSize": 36, "titlePadding": 34, "titleY": 383, "labelPadding": 7}
    }
  },
  "layer": [
    {
      "data": {"values": [{"ref": 175}]},
      "mark": {"type": "rule", "color": "#8dd0f0", "strokeWidth": 4},
      "encoding": {"y": {"field": "ref", "type": "quantitative"}, "x": null}
    },
    {
      "mark": {"type": "line", "strokeWidth": 2.2, "interpolate": "linear"},
      "encoding": {
        "color": {
          "field": "s", "type": "nominal", "legend": null,
          "scale": {"domain": ["blue","orange","green","red","purple"], "range": ["#1f77b4","#ff7f0e","#2ca02c","#d62728","#9467bd"]}
        }
      }
    },
    {
      "data": {"values": [{"zero": 0}]},
      "mark": {"type": "rule", "color": "#ff2a2a", "strokeWidth": 1.5, "strokeDash": [6, 4]},
      "encoding": {"x": {"field": "zero", "type": "quantitative"}, "y": null}
    }
  ]
}
